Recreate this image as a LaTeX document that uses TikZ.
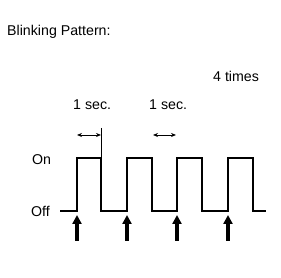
\documentclass[tikz,border=0pt]{standalone}
\usepackage{fontspec}
\setmainfont{Liberation Sans}
\usetikzlibrary{arrows.meta}

\begin{document}
\begin{tikzpicture}[x=1pt,y=1pt,>={Stealth[length=5pt,width=4pt]},font=\fontsize{14.2}{17}\selectfont,
                    lbl/.style={anchor=base west,inner sep=0pt},
                    wave/.style={line width=2pt,line join=miter},
                    push/.style={line width=3.4pt,-{Triangle[width=9pt,length=9pt]}}]
  \useasboundingbox (0,0) rectangle (281,278);
  \node[lbl] (title) at (7,242) {Blinking Pattern:};
  \node[lbl] (times) at (213,196) {4 times};
  \node[lbl] (sec1) at (73,168) {1 sec.};
  \node[lbl] (sec2) at (149,168) {1 sec.};
  \node[lbl] (on) at (32,113) {On};
  \node[lbl] (off) at (31,61) {Off};
  % signal
  \draw[wave] (60,67) -- (77,67) -- (77,120) -- (101,120) -- (101,67)
    -- (127,67) -- (127,120) -- (152,120) -- (152,67)
    -- (177,67) -- (177,120) -- (202,120) -- (202,67)
    -- (228,67) -- (228,120) -- (253,120) -- (253,67) -- (266,67);
  % time marks
  \coordinate (ext) at (101,150);
  \draw[line width=0.8pt] (ext) -- (101,120);
  \draw[<->,line width=0.8pt] (77,143) -- (101,143);
  \draw[<->,line width=0.8pt] (153,143) -- (176,143);
  % presses
  \foreach \x/\name in {77/a,127/b,177/c,228/d}{
    \coordinate (\name0) at (\x,37);
    \coordinate (\name1) at (\x,63);
    \draw[push] (\name0) -- (\name1);
  }
\end{tikzpicture}
\end{document}
